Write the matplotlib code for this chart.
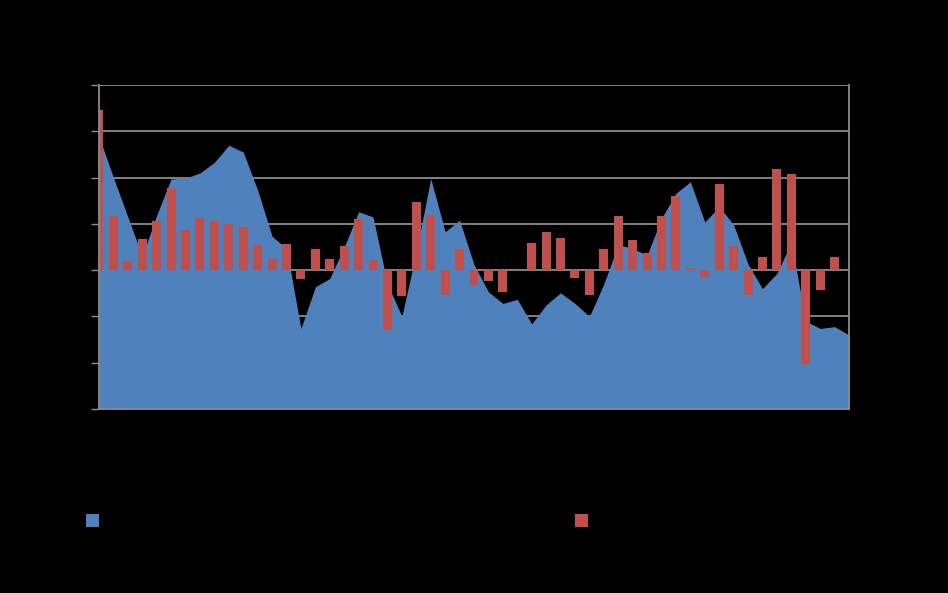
import numpy as np
import matplotlib
matplotlib.use("Agg")
import matplotlib.pyplot as plt
from matplotlib.patches import Patch

# ---- data ----
categories = list(range(53))
area_values = [2.89, 2.0, 1.15, 0.3, 1.19, 1.97, 1.99, 2.1, 2.33, 2.7, 2.55, 1.73, 0.73, 0.47,
               -1.26, -0.36, -0.18, 0.5, 1.26, 1.15, -0.3, -1.0, 0.4, 1.98, 0.83, 1.08, 0.12,
               -0.47, -0.72, -0.63, -1.16, -0.75, -0.49, -0.72, -1.0, -0.3, 0.55, 0.47, 0.32,
               1.12, 1.66, 1.91, 1.04, 1.37, 0.98, 0.13, -0.4, -0.07, 0.6, -1.1, -1.26, -1.22, -1.4]
bar_values = [3.46, 1.17, 0.2, 0.68, 1.07, 1.78, 0.86, 1.13, 1.07, 1.0, 0.93, 0.55, 0.24, 0.56,
              -0.2, 0.45, 0.24, 0.53, 1.11, 0.21, -1.3, -0.55, 1.48, 1.2, -0.53, 0.45, -0.32,
              -0.23, -0.47, -0.02, 0.59, 0.83, 0.7, -0.18, -0.53, 0.45, 1.18, 0.65, 0.37, 1.18,
              1.6, 0.05, -0.14, 1.87, 0.52, -0.53, 0.29, 2.18, 2.07, -2.02, -0.42, 0.29, np.nan]
y_ticks = [-3, -2, -1, 0, 1, 2, 3, 4]

BLUE = "#4F81BD"
RED = "#C0504D"
GRID = "#8C8C8C"

fig = plt.figure(figsize=(9.48, 5.93), dpi=100, facecolor="black")
ax = fig.add_axes([99 / 948, 1 - 409 / 593, 750 / 948, 324 / 593])
ax.set_facecolor("black")

ymin, ymax = y_ticks[0], y_ticks[-1]
x = np.array(categories)

ax.fill_between(x, ymin, area_values, color=BLUE, linewidth=0, zorder=2)
ax.bar(x, bar_values, width=0.62, color=RED, linewidth=0, zorder=3)

ax.set_xlim(x[0], x[-1])
ax.set_ylim(ymin, ymax)
ax.set_yticks(y_ticks)
ax.yaxis.grid(True, color=GRID, linewidth=1.3, zorder=1)
ax.set_axisbelow(True)

ax.tick_params(axis="y", direction="out", length=6, width=1.0, color=GRID,
               labelleft=False)
ax.tick_params(axis="x", length=0, labelbottom=False)

for s in ["left", "bottom", "right"]:
    ax.spines[s].set_color(GRID)
    ax.spines[s].set_linewidth(1.3)
    ax.spines[s].set_zorder(4)
ax.spines["top"].set_visible(False)

# legend markers (text is black on black in the reference)
h1 = Patch(facecolor=BLUE, edgecolor="none")
h2 = Patch(facecolor=RED, edgecolor="none")
leg1 = fig.legend([h1], [""], loc="center left", bbox_to_anchor=(86 / 948, 1 - 521 / 593),
                  frameon=False, borderpad=0, borderaxespad=0, handlelength=0.8,
                  handleheight=0.8, handletextpad=0.3, fontsize=12)
leg2 = fig.legend([h2], [""], loc="center left", bbox_to_anchor=(575 / 948, 1 - 521 / 593),
                  frameon=False, borderpad=0, borderaxespad=0, handlelength=0.8,
                  handleheight=0.8, handletextpad=0.3, fontsize=12)

fig.savefig("out.png", dpi=100, facecolor="black")
